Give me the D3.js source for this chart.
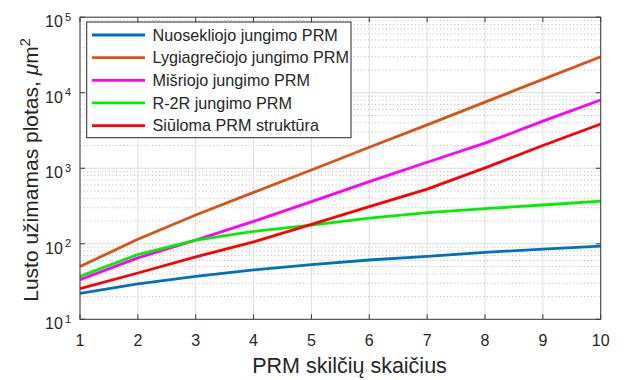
<!DOCTYPE html>
<html>
<head>
<meta charset="utf-8">
<script src="https://cdn.jsdelivr.net/npm/d3@7/dist/d3.min.js"></script>
<style>
  html, body { margin: 0; padding: 0; background: #fff; }
  svg { display: block; }
  text { font-family: "Liberation Sans", Arial, Helvetica, sans-serif; fill: #262626; }
</style>
</head>
<body>
<svg id="chart" width="624" height="380"></svg>
<script>
// Number of PRM segments
const segments = [1, 2, 3, 4, 5, 6, 7, 8, 9, 10];

// Chip area (µm²) for each PRM structure
const serialArea   = [22, 29.5, 37, 45, 53, 61, 68, 77, 85, 93];
const parallelArea = [50, 115, 240, 480, 950, 1900, 3750, 7500, 15000, 30000];
const mixedArea    = [33.5, 65, 112, 198, 362, 665, 1200, 2150, 4200, 8000];
const r2rArea      = [37, 72, 112, 146, 177, 218, 258, 292, 326, 366];
const proposedArea = [25.5, 41, 67, 106, 181, 310, 530, 1010, 2000, 3850];

const seriesNames = [
  "Nuosekliojo jungimo PRM",
  "Lygiagrečiojo jungimo PRM",
  "Mišriojo jungimo PRM",
  "R-2R jungimo PRM",
  "Siūloma PRM struktūra"
];
const seriesColors = ["#0072BD", "#D95319", "#FF00FF", "#00EE00", "#FF0000"];
const seriesValues = [serialArea, parallelArea, mixedArea, r2rArea, proposedArea];

const xTicks = [1, 2, 3, 4, 5, 6, 7, 8, 9, 10];
const yExponents = [1, 2, 3, 4, 5];

const svg = d3.select("#chart");
const plot = { left: 80, right: 600.7, top: 17.2, bottom: 319.3 };

const x = d3.scaleLinear().domain([1, 10]).range([plot.left, plot.right]);
const y = d3.scaleLog().domain([10, 1e5]).range([plot.bottom, plot.top]);

svg.append("rect").attr("width", 624).attr("height", 380).attr("fill", "#fff");

// Minor grid (dotted) at 2..9 × 10^k
const minorVals = [];
for (let k = 1; k < 5; k++) for (let m = 2; m <= 9; m++) minorVals.push(m * Math.pow(10, k));
svg.append("g").selectAll("line").data(minorVals).join("line")
  .attr("x1", plot.left).attr("x2", plot.right)
  .attr("y1", d => y(d)).attr("y2", d => y(d))
  .attr("stroke", "#b8b8b8").attr("stroke-width", 1)
  .attr("stroke-dasharray", "1 2.6");

// Major grid
const gridG = svg.append("g");
gridG.selectAll("line.v").data(xTicks).join("line").attr("class", "v")
  .attr("x1", d => x(d)).attr("x2", d => x(d))
  .attr("y1", plot.top).attr("y2", plot.bottom)
  .attr("stroke", "#dedede").attr("stroke-width", 1);
gridG.selectAll("line.h").data(yExponents).join("line").attr("class", "h")
  .attr("x1", plot.left).attr("x2", plot.right)
  .attr("y1", d => y(Math.pow(10, d))).attr("y2", d => y(Math.pow(10, d)))
  .attr("stroke", "#dedede").attr("stroke-width", 1);

// Data lines
const line = d3.line().x((d, i) => x(segments[i])).y(d => y(d));
svg.append("g").selectAll("path").data(seriesValues).join("path")
  .attr("d", d => line(d))
  .attr("fill", "none")
  .attr("stroke", (d, i) => seriesColors[i])
  .attr("stroke-width", 2.8)
  .attr("stroke-linejoin", "round");

// Axes box with inward ticks on all four sides
const axisG = svg.append("g");
const tickLen = 5;
const axisColor = "#3a3a3a";
axisG.append("rect")
  .attr("x", plot.left).attr("y", plot.top)
  .attr("width", plot.right - plot.left).attr("height", plot.bottom - plot.top)
  .attr("fill", "none").attr("stroke", axisColor).attr("stroke-width", 1);
axisG.selectAll("line.xb").data(xTicks).join("line").attr("class", "xb")
  .attr("x1", d => x(d)).attr("x2", d => x(d))
  .attr("y1", plot.bottom).attr("y2", plot.bottom - tickLen)
  .attr("stroke", axisColor);
axisG.selectAll("line.xt").data(xTicks).join("line").attr("class", "xt")
  .attr("x1", d => x(d)).attr("x2", d => x(d))
  .attr("y1", plot.top).attr("y2", plot.top + tickLen)
  .attr("stroke", axisColor);
axisG.selectAll("line.yl").data(yExponents).join("line").attr("class", "yl")
  .attr("x1", plot.left).attr("x2", plot.left + tickLen)
  .attr("y1", d => y(Math.pow(10, d))).attr("y2", d => y(Math.pow(10, d)))
  .attr("stroke", axisColor);
axisG.selectAll("line.yr").data(yExponents).join("line").attr("class", "yr")
  .attr("x1", plot.right).attr("x2", plot.right - tickLen)
  .attr("y1", d => y(Math.pow(10, d))).attr("y2", d => y(Math.pow(10, d)))
  .attr("stroke", axisColor);

// X tick labels
svg.append("g").selectAll("text").data(xTicks).join("text")
  .attr("x", d => x(d)).attr("y", 346)
  .attr("text-anchor", "middle")
  .attr("font-size", 16)
  .text(d => d);

// Y tick labels as 10^k
const yLab = svg.append("g").selectAll("text").data(yExponents).join("text")
  .attr("x", 71).attr("y", d => y(Math.pow(10, d)) + 10)
  .attr("text-anchor", "end")
  .attr("font-size", 16);
yLab.append("tspan").text("10");
yLab.append("tspan").attr("dx", 2).attr("dy", -6.5).attr("font-size", 11).text(d => d);

// Axis titles
svg.append("text")
  .attr("x", 349.5).attr("y", 372.5)
  .attr("text-anchor", "middle").attr("font-size", 21.5)
  .text("PRM skilčių skaičius");

const yTitle = svg.append("text")
  .attr("transform", `translate(38, 170) rotate(-90)`)
  .attr("text-anchor", "middle").attr("font-size", 21);
yTitle.append("tspan").text("Lusto užimamas plotas, ");
yTitle.append("tspan").attr("font-style", "italic").text("μ");
yTitle.append("tspan").text("m");
yTitle.append("tspan").attr("dy", -8.5).attr("font-size", 14.5).text("2");

// Legend
const legend = svg.append("g");
legend.append("rect")
  .attr("x", 86.7).attr("y", 22).attr("width", 264.3).attr("height", 115.7)
  .attr("fill", "#fff").attr("stroke", "#262626").attr("stroke-width", 1);
const items = legend.selectAll("g.item").data(seriesNames).join("g").attr("class", "item")
  .attr("transform", (d, i) => `translate(0, ${35 + i * 22.65})`);
items.append("line")
  .attr("x1", 92).attr("x2", 145).attr("y1", 0).attr("y2", 0)
  .attr("stroke", (d, i) => seriesColors[i]).attr("stroke-width", 2.8);
items.append("text")
  .attr("x", 152.5).attr("y", 5.8)
  .attr("font-size", 16.2)
  .text(d => d);
</script>
</body>
</html>
